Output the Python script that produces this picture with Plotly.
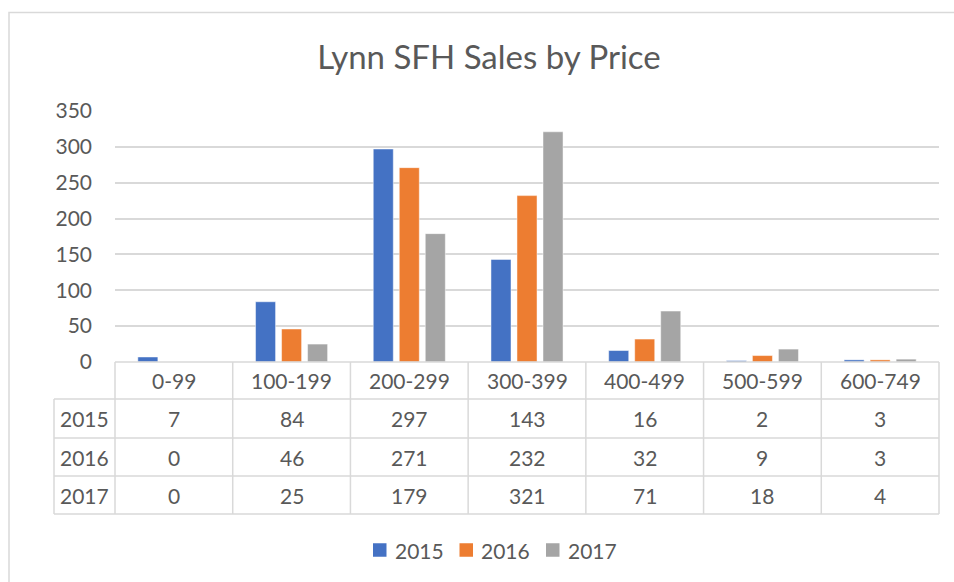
import plotly.graph_objects as go

# ---- data ----
categories = ["0-99", "100-199", "200-299", "300-399", "400-499", "500-599", "600-749"]
series_names = ["2015", "2016", "2017"]
sales_2015 = [7, 84, 297, 143, 16, 2, 3]
sales_2016 = [0, 46, 271, 232, 32, 9, 3]
sales_2017 = [0, 25, 179, 321, 71, 18, 4]
y_ticks = [0, 50, 100, 150, 200, 250, 300, 350]
title_text = "Lynn SFH Sales by Price"

series_values = [sales_2015, sales_2016, sales_2017]
colors = ["#4472C4", "#ED7D31", "#A5A5A5"]
TXT = "#595959"
GRID = "#D9D9D9"
FONT = "Lato"
FS = 21

W, H = 954, 582
L, R, T, B = 115, 939, 111, 362  # plot area in pixels


def xp(px):
    return (px - L) / (R - L)


def yp(py):
    return (B - py) / (B - T)


fig = go.Figure()
for name, vals, col in zip(series_names, series_values, colors):
    fig.add_trace(go.Bar(
        x=categories, y=vals, name=name,
        marker=dict(color=col, line=dict(color="rgba(255,255,255,0.6)", width=0.8)),
        showlegend=False,
    ))

shapes = []
annotations = []
line = dict(color=GRID, width=1.5)

# outer chart border (extends beyond the visible window)
shapes.append(dict(type="rect", xref="paper", yref="paper",
                   x0=xp(9), x1=xp(1000), y0=yp(640), y1=yp(12.5),
                   line=dict(color=GRID, width=1.5), fillcolor="rgba(0,0,0,0)", layer="below"))

# data table grid
row_edges = [362, 399, 438, 476, 514]
ncol = len(categories)
col_w = (R - L) / ncol
left_col = 54
shapes.append(dict(type="line", xref="paper", yref="paper", x0=xp(L), x1=xp(R),
                   y0=yp(row_edges[0]), y1=yp(row_edges[0]), line=line))
for ry in row_edges[1:]:
    shapes.append(dict(type="line", xref="paper", yref="paper", x0=xp(left_col), x1=xp(R),
                       y0=yp(ry), y1=yp(ry), line=line))
shapes.append(dict(type="line", xref="paper", yref="paper", x0=xp(left_col), x1=xp(left_col),
                   y0=yp(row_edges[1]), y1=yp(row_edges[-1]), line=line))
for i in range(ncol + 1):
    cx = L + i * col_w
    shapes.append(dict(type="line", xref="paper", yref="paper", x0=xp(cx), x1=xp(cx),
                       y0=yp(row_edges[0]), y1=yp(row_edges[-1]), line=line))

font = dict(family=FONT, size=FS, color=TXT)
hy = (row_edges[0] + row_edges[1]) / 2
for c in categories:
    annotations.append(dict(x=c, xref="x", y=yp(hy), yref="paper", text=c, showarrow=False,
                            xanchor="center", yanchor="middle", font=font))
for r, (name, vals) in enumerate(zip(series_names, series_values)):
    cy = (row_edges[r + 1] + row_edges[r + 2]) / 2
    annotations.append(dict(x=xp((left_col + L) / 2), xref="paper", y=yp(cy), yref="paper",
                            text=name, showarrow=False, xanchor="center", yanchor="middle",
                            font=font))
    for c, v in zip(categories, vals):
        annotations.append(dict(x=c, xref="x", y=yp(cy), yref="paper", text=str(v),
                                showarrow=False, xanchor="center", yanchor="middle", font=font))

# legend (manual)
leg_x0, leg_stride, leg_y = 373, 86.5, 550
sq = 13.5
for i, (name, col) in enumerate(zip(series_names, colors)):
    sx = leg_x0 + i * leg_stride
    shapes.append(dict(type="rect", xref="paper", yref="paper",
                       x0=xp(sx), x1=xp(sx + sq), y0=yp(leg_y + sq / 2), y1=yp(leg_y - sq / 2),
                       fillcolor=col, line=dict(width=0)))
    annotations.append(dict(x=xp(sx + sq + 6), xref="paper", y=yp(leg_y), yref="paper",
                            text=name, showarrow=False, xanchor="left", yanchor="middle",
                            font=font))

fig.update_layout(
    width=W, height=H,
    margin=dict(l=L, r=W - R, t=T, b=H - B, pad=0),
    paper_bgcolor="white", plot_bgcolor="white",
    title=dict(text=title_text, x=489 / W, xref="container", xanchor="center",
               y=1 - 57 / H, yref="container", yanchor="middle",
               font=dict(family=FONT, size=33, color=TXT)),
    bargap=0.337, bargroupgap=0.23,
    shapes=shapes, annotations=annotations,
    showlegend=False,
    font=font,
)
fig.update_xaxes(showticklabels=False, showline=False, showgrid=False, zeroline=False,
                 ticks="")
fig.update_yaxes(range=[0, 350], tickvals=y_ticks, showgrid=True, gridcolor=GRID, gridwidth=1.5,
                 zeroline=False, showline=False, ticks="", ticklabelstandoff=22,
                 tickfont=font)

fig.write_html(
    "out.html",
    config={"displayModeBar": False},
    post_script="document.body.style.margin='0';document.body.style.overflow='hidden';",
)
